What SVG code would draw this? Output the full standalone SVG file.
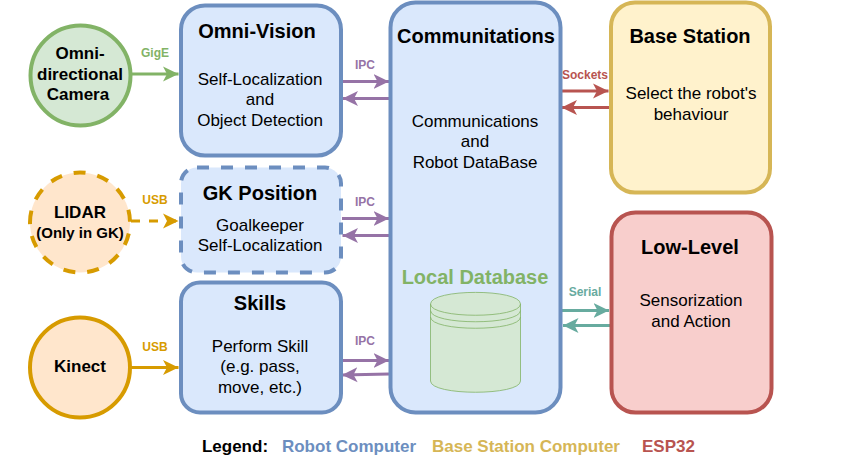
<svg xmlns="http://www.w3.org/2000/svg" width="850" height="462" viewBox="0 0 850 462">
<style>
text{font-family:"Liberation Sans",Arial,sans-serif;text-anchor:middle;fill:#000}
.b{font-weight:bold}
.t{font-size:20px;font-weight:bold}
.n{font-size:17px}
.c{font-size:17px;font-weight:bold}
.l{font-size:12px;font-weight:bold}
.blue{fill:#dae8fc;stroke:#6c8ebf;stroke-width:4}
.conn{fill:none;stroke-width:3}
</style>
<defs>
<marker id="ag" markerUnits="userSpaceOnUse" markerWidth="17" markerHeight="17" refX="15.500" refY="8.500" orient="auto"><path d="M0 1L15.500 8.500L0 16L4 8.500Z" fill="#82b366"/></marker>
<marker id="ao" markerUnits="userSpaceOnUse" markerWidth="17" markerHeight="17" refX="15.500" refY="8.500" orient="auto"><path d="M0 1L15.500 8.500L0 16L4 8.500Z" fill="#d79b00"/></marker>
<marker id="ap" markerUnits="userSpaceOnUse" markerWidth="17" markerHeight="17" refX="15.500" refY="8.500" orient="auto"><path d="M0 1L15.500 8.500L0 16L4 8.500Z" fill="#9673a6"/></marker>
<marker id="ar" markerUnits="userSpaceOnUse" markerWidth="17" markerHeight="17" refX="15.500" refY="8.500" orient="auto"><path d="M0 1L15.500 8.500L0 16L4 8.500Z" fill="#b85450"/></marker>
<marker id="at" markerUnits="userSpaceOnUse" markerWidth="17" markerHeight="17" refX="15.500" refY="8.500" orient="auto"><path d="M0 1L15.500 8.500L0 16L4 8.500Z" fill="#67ab9f"/></marker>
</defs>
<g id="connectors">
<path class="conn" stroke="#82b366" d="M131 74H178.500" marker-end="url(#ag)"/>
<path class="conn" stroke="#d79b00" stroke-dasharray="9 9" d="M131 221H178.500" marker-end="url(#ao)"/>
<path class="conn" stroke="#d79b00" d="M131 367.500H178.500" marker-end="url(#ao)"/>
<path class="conn" stroke="#9673a6" d="M342 81.500H389" marker-end="url(#ap)"/>
<path class="conn" stroke="#9673a6" d="M390 98.500H342.500" marker-end="url(#ap)"/>
<path class="conn" stroke="#9673a6" d="M342 218.500H389" marker-end="url(#ap)"/>
<path class="conn" stroke="#9673a6" d="M390 235.500H342.500" marker-end="url(#ap)"/>
<path class="conn" stroke="#9673a6" d="M342 360.500H389" marker-end="url(#ap)"/>
<path class="conn" stroke="#9673a6" d="M389 374L342 375" marker-end="url(#ap)"/>
<path class="conn" stroke="#b85450" d="M561 91H608.500" marker-end="url(#ar)"/>
<path class="conn" stroke="#b85450" d="M609 107.500H561.500" marker-end="url(#ar)"/>
<path class="conn" stroke="#67ab9f" d="M562 310.500H609" marker-end="url(#at)"/>
<path class="conn" stroke="#67ab9f" d="M610 325.500H563" marker-end="url(#at)"/>
<text class="l" x="155" y="57" style="fill:#82b366">GigE</text>
<text class="l" x="155" y="204" style="fill:#d79b00">USB</text>
<text class="l" x="155" y="351" style="fill:#d79b00">USB</text>
<text class="l" x="365" y="69" style="fill:#9673a6">IPC</text>
<text class="l" x="365" y="206" style="fill:#9673a6">IPC</text>
<text class="l" x="365" y="345" style="fill:#9673a6">IPC</text>
<text class="l" x="585" y="79" style="fill:#b85450">Sockets</text>
<text class="l" x="585" y="296" style="fill:#67ab9f">Serial</text>
</g>
<g id="camera">
<circle cx="80.500" cy="75.500" r="50" fill="#d5e8d4" stroke="#82b366" stroke-width="4"/>
<text class="c" x="80" y="59">Omni-</text><text class="c" x="80" y="79.500">directional</text><text class="c" x="78" y="100">Camera</text>
</g>
<g id="lidar">
<circle cx="80" cy="222.500" r="50" fill="#ffe6cc" stroke="#d79b00" stroke-width="4" stroke-dasharray="12 12" transform="rotate(180 80 222.500)"/>
<text class="c" x="80" y="218">LIDAR</text><text x="80" y="237.500" class="b" font-size="15">(Only in GK)</text>
</g>
<g id="kinect">
<circle cx="80" cy="367.500" r="50" fill="#ffe6cc" stroke="#d79b00" stroke-width="4"/>
<text class="c" x="80" y="372">Kinect</text>
</g>
<g id="omni-vision">
<rect class="blue" x="181" y="5.500" width="160" height="150" rx="24"/>
<text class="t" x="257" y="38">Omni-Vision</text>
<text class="n" x="260" y="85">Self-Localization</text><text class="n" x="260" y="105">and</text><text class="n" x="260" y="126">Object Detection</text>
</g>
<g id="gk-position">
<rect class="blue" x="181" y="167.500" width="160" height="105" rx="16" stroke-dasharray="12 12"/>
<text class="t" x="260" y="200">GK Position</text>
<text class="n" x="260" y="231">Goalkeeper</text><text class="n" x="260" y="251">Self-Localization</text>
</g>
<g id="skills">
<rect class="blue" x="181" y="282.500" width="160" height="130" rx="19"/>
<text class="t" x="260" y="310">Skills</text>
<text class="n" x="260" y="352">Perform Skill</text><text class="n" x="260" y="372">(e.g. pass,</text><text class="n" x="260" y="393">move, etc.)</text>
</g>
<g id="communications">
<rect class="blue" x="390.500" y="2.500" width="170" height="410" rx="25"/>
<text class="t" x="476" y="43">Communitations</text>
<text class="n" x="475" y="127">Communications</text><text class="n" x="475" y="147">and</text><text class="n" x="475" y="168">Robot DataBase</text>
<text x="475" y="284" class="t" font-size="20.500" style="fill:#82b366">Local Database</text>
<g fill="#d5e8d4" stroke="#82b366" stroke-width="0.800">
<path d="M430.500 304C430.500 288.500 520.500 288.500 520.500 304V381C520.500 396 430.500 396 430.500 381Z"/>
<path fill="none" d="M430.500 304C430.500 319 520.500 319 520.500 304M430.500 310.500C430.500 325.500 520.500 325.500 520.500 310.500M430.500 317C430.500 332 520.500 332 520.500 317"/>
</g>
</g>
<g id="base-station">
<rect x="611" y="2.500" width="159" height="190" rx="24" fill="#fff2cc" stroke="#d6b656" stroke-width="4"/>
<text class="t" x="690" y="43">Base Station</text>
<text class="n" x="691" y="99">Select the robot's</text><text class="n" x="691" y="120">behaviour</text>
</g>
<g id="low-level">
<rect x="611.500" y="212.500" width="160" height="200" rx="24" fill="#f8cecc" stroke="#b85450" stroke-width="4"/>
<text class="t" x="690" y="254">Low-Level</text>
<text class="n" x="691" y="306">Sensorization</text><text class="n" x="691" y="327">and Action</text>
</g>
<g id="legend">
<text class="c" x="235" y="452">Legend:</text>
<text class="c" x="349" y="452" style="fill:#6c8ebf">Robot Computer</text>
<text class="c" x="526" y="452" style="fill:#d6b656">Base Station Computer</text>
<text class="c" x="668.500" y="452" style="fill:#b85450">ESP32</text>
</g>
</svg>
